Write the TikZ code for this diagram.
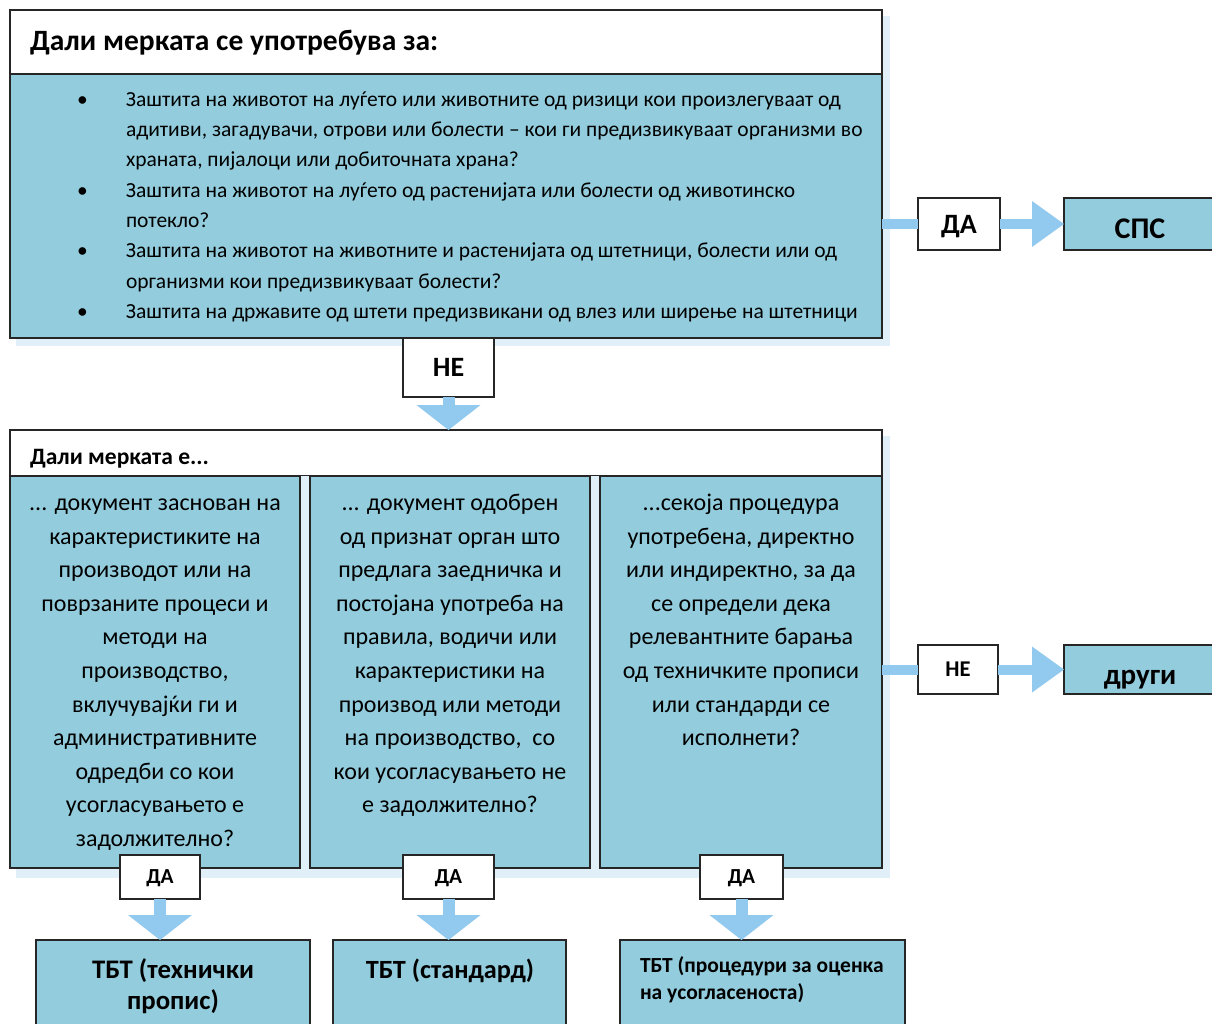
\documentclass[tikz,border=0pt]{standalone}
\usepackage{fontspec}
\setmainfont{Carlito}
\usetikzlibrary{arrows.meta}
\definecolor{boxblue}{HTML}{93CDDD}
\definecolor{arrblue}{HTML}{92C9EE}
\definecolor{shad}{HTML}{E1EFF8}
\begin{document}
\begin{tikzpicture}[x=1pt,y=-1pt,
  every node/.style={inner sep=0pt, outer sep=0pt},
  panel/.style={draw=black!85, line width=1.1pt, anchor=north west},
  bluebox/.style={panel, fill=boxblue},
  whitebox/.style={panel, fill=white},
  lbl/.style={draw=black!85, line width=1.1pt, fill=white, font=\bfseries, text depth=0pt},
  flow/.style={draw=arrblue, line width=10pt},
  flowright/.style={flow, -{Triangle[width=46pt,length=32pt,line width=0pt]}},
  flowdown/.style={draw=arrblue, line width=12pt, -{Triangle[width=64pt,length=25pt,line width=0pt]}},
  shadow/.style={fill=shad, draw=none}]
\useasboundingbox (0,0) rectangle (1212,1023);
\fill[white] (0,0) rectangle (1212,1023);

% shadows
\fill[shadow] (16,16) rectangle (890,346);
\fill[shadow] (16,436) rectangle (890,878);

% top question box
\node[whitebox, minimum width=872pt, minimum height=64pt] (h1) at (10,10) {};
\node[bluebox, minimum width=872pt, minimum height=264pt] (b1) at (10,74) {};
\node[anchor=base west, font=\fontsize{29.5}{34}\bfseries\selectfont] (t1) at (30,50) {Дали мерката се употребува за:};
\node[anchor=north west, align=left, font=\fontsize{21.5}{30.3}\selectfont] (bl) at (76,85)
{\strut\makebox[50pt][l]{\hspace{1pt}•}Заштита на животот на луѓето или животните од ризици кои произлегуваат од\\
\strut\hspace*{50pt}адитиви, загадувачи, отрови или болести – кои ги предизвикуваат организми во\\
\strut\hspace*{50pt}храната, пијалоци или добиточната храна?\\
\strut\makebox[50pt][l]{\hspace{1pt}•}Заштита на животот на луѓето од растенијата или болести од животинско\\
\strut\hspace*{50pt}потекло?\\
\strut\makebox[50pt][l]{\hspace{1pt}•}Заштита на животот на животните и растенијата од штетници, болести или од\\
\strut\hspace*{50pt}организми кои предизвикуваат болести?\\
\strut\makebox[50pt][l]{\hspace{1pt}•}Заштита на државите од штети предизвикани од влез или ширење на штетници};

% second question box
\node[whitebox, minimum width=872pt, minimum height=46pt] (h2) at (10,430) {};
\node[anchor=base west, font=\fontsize{23.5}{28}\bfseries\selectfont] (t2) at (30,464) {Дали мерката е...};
\fill[shadow] (300,476) rectangle (310,868);
\fill[shadow] (590,476) rectangle (600,868);
\node[bluebox, minimum width=290pt, minimum height=392pt] (c1) at (10,476) {};
\node[bluebox, minimum width=280pt, minimum height=392pt] (c2) at (310,476) {};
\node[bluebox, minimum width=282pt, minimum height=392pt] (c3) at (600,476) {};
\tikzset{coltext/.style={anchor=north, align=center, font=\fontsize{24}{33.6}\selectfont}}
\node[coltext] (c1t) at (155,487)
{\strut... документ заснован на\\ \strut карактеристиките на\\ \strut производот или на\\ \strut поврзаните процеси и\\ \strut методи на\\ \strut производство,\\ \strut вклучувајќи ги и\\ \strut административните\\ \strut одредби со кои\\ \strut усогласувањето е\\ \strut задолжително?};
\node[coltext] (c2t) at (450,487)
{\strut... документ одобрен\\ \strut од признат орган што\\ \strut предлага заедничка и\\ \strut постојана употреба на\\ \strut правила, водичи или\\ \strut карактеристики на\\ \strut производ или методи\\ \strut на производство,~ со\\ \strut кои усогласувањето не\\ \strut е задолжително?};
\node[coltext] (c3t) at (741,487)
{\strut...секоја процедура\\ \strut употребена, директно\\ \strut или индиректно, за да\\ \strut се определи дека\\ \strut релевантните барања\\ \strut од техничките прописи\\ \strut или стандарди се\\ \strut исполнети?};

% result boxes
\node[bluebox, minimum width=161pt, minimum height=52pt] (sps) at (1064,198) {};
\node[font=\fontsize{30}{34}\bfseries\selectfont, anchor=base] (spst) at (1140,238) {СПС};
\node[bluebox, minimum width=161pt, minimum height=49pt] (drugi) at (1064,645) {};
\node[font=\fontsize{29}{34}\bfseries\selectfont, anchor=base] (drugit) at (1140,684) {други};
\node[bluebox, minimum width=274pt, minimum height=100pt] (r1) at (36,940) {};
\node[anchor=north, align=center, font=\fontsize{26.8}{31.5}\bfseries\selectfont] (r1t) at (173,956) {\strut ТБТ (технички\\ \strut пропис)};
\node[bluebox, minimum width=233pt, minimum height=100pt] (r2) at (333,940) {};
\node[anchor=base, font=\fontsize{26.3}{31}\bfseries\selectfont] (r2t) at (450,978) {ТБТ (стандард)};
\node[bluebox, minimum width=285pt, minimum height=100pt] (r3) at (620,940) {};
\node[anchor=north west, align=left, font=\fontsize{21.5}{26.5}\bfseries\selectfont] (r3t) at (640,954) {\strut ТБТ (процедури за оценка\\ \strut на усогласеноста)};

% labels
\node[lbl, minimum width=82pt, minimum height=52pt, font=\fontsize{28}{32}\bfseries\selectfont] (daTop) at (959,224) {ДА};
\node[lbl, minimum width=91pt, minimum height=59pt, font=\fontsize{28}{32}\bfseries\selectfont] (neMid) at (448.5,367.5) {НЕ};
\node[lbl, minimum width=80pt, minimum height=49pt, font=\fontsize{22.5}{26}\bfseries\selectfont] (neRight) at (958,669.5) {НЕ};
\node[lbl, minimum width=80pt, minimum height=44pt, font=\fontsize{21.4}{26}\bfseries\selectfont] (da1) at (160,877) {ДА};
\node[lbl, minimum width=91pt, minimum height=44pt, font=\fontsize{21.4}{26}\bfseries\selectfont] (da2) at (448.5,877) {ДА};
\node[lbl, minimum width=83pt, minimum height=44pt, font=\fontsize{21.4}{26}\bfseries\selectfont] (da3) at (741.5,877) {ДА};

% connectors
\draw[flow] (b1.east |- daTop) -- (daTop.west);
\draw[flowright] (daTop.east) -- (sps.west);
\draw[flow] (c3.east |- neRight) -- (neRight.west);
\draw[flowright] (neRight.east) -- (drugi.west |- neRight);
\draw[flowdown] (neMid.south) -- (neMid.south |- h2.north);
\draw[flowdown] (da1.south) -- (da1.south |- r1.north);
\draw[flowdown] (da2.south) -- (da2.south |- r2.north);
\draw[flowdown] (da3.south) -- (da3.south |- r3.north);
\end{tikzpicture}
\end{document}
